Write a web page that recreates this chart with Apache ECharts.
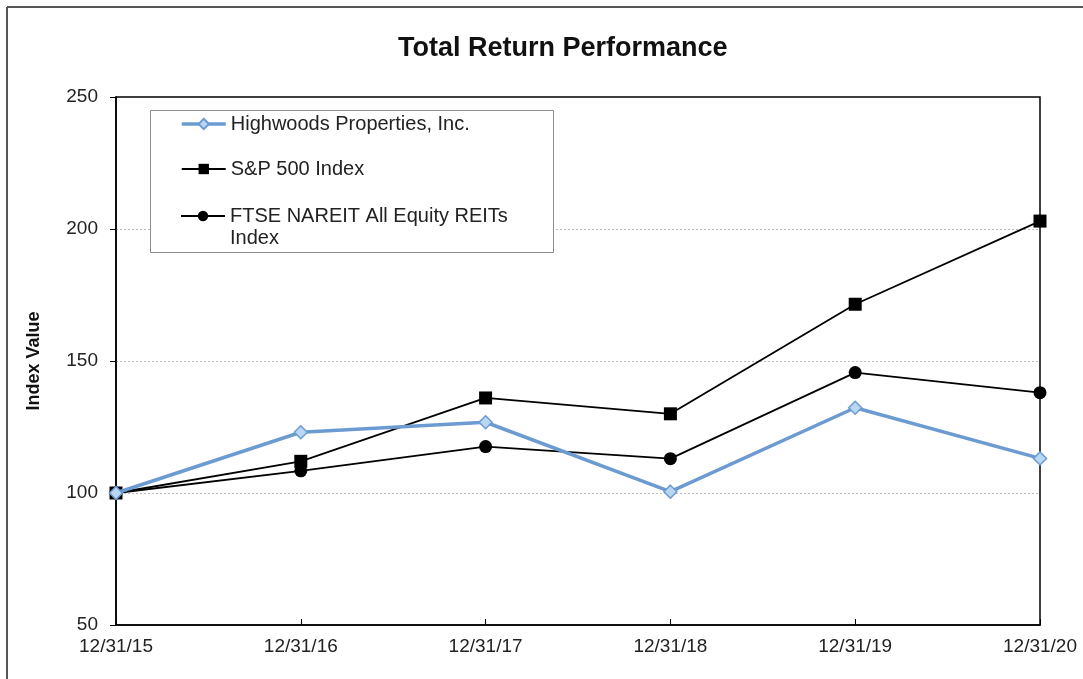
<!DOCTYPE html>
<html>
<head>
<meta charset="utf-8">
<title>Total Return Performance</title>
<script src="https://cdn.jsdelivr.net/npm/echarts@6/dist/echarts.min.js"></script>
<style>
  html, body { margin: 0; padding: 0; background: #fff; }
  #chart { width: 1083px; height: 679px; }
</style>
</head>
<body>
<div id="chart"></div>
<script>
// data
const dates = ['12/31/15', '12/31/16', '12/31/17', '12/31/18', '12/31/19', '12/31/20'];
const highwoods = [100, 123.0, 126.8, 100.5, 132.3, 113.1];
const sp500 = [100, 112.0, 136.0, 130.0, 171.5, 203.0];
const ftseNareit = [100, 108.4, 117.6, 113.0, 145.6, 138.0];

const font = '"Liberation Sans", Arial, sans-serif';
const blue = '#6b9bd1';

const chart = echarts.init(document.getElementById('chart'));

const legendText = {
  fontFamily: font,
  fontSize: 20,
  color: '#222',
  lineHeight: 22
};

chart.setOption({
  animation: false,
  backgroundColor: '#fff',
  title: {
    text: 'Total Return Performance',
    left: 398,
    top: 35,
    padding: 0,
    textStyle: { fontFamily: font, fontSize: 27, fontWeight: 'bold', color: '#111' }
  },
  graphic: [
    // outer frame (top & left edges)
    { type: 'line', z: 10, shape: { x1: 7, y1: 7, x2: 1083, y2: 7 }, style: { stroke: '#555', lineWidth: 2 } },
    { type: 'line', z: 10, shape: { x1: 7, y1: 7, x2: 7, y2: 679 }, style: { stroke: '#555', lineWidth: 2 } },
    // legend box
    {
      type: 'rect', z: 3,
      shape: { x: 150.5, y: 110.5, width: 403, height: 142 },
      style: { fill: '#fff', stroke: '#8c8c8c', lineWidth: 1 }
    }
  ],
  legend: [
    {
      data: [
        { name: 'Highwoods Properties, Inc.', lineStyle: { width: 3.5 } },
        { name: 'S&P 500 Index', lineStyle: { width: 2 } }
      ],
      orient: 'vertical',
      left: 180,
      top: 113,
      padding: 0,
      itemGap: 23,
      itemWidth: 44,
      itemHeight: 13,
      textStyle: legendText
    },
    {
      data: [{ name: 'FTSE NAREIT All Equity REITs Index', lineStyle: { width: 2 } }],
      orient: 'vertical',
      left: 180,
      top: 183,
      padding: 0,
      itemWidth: 44,
      itemHeight: 13,
      // leading blank line keeps the icon level with the first text line
      formatter: () => '\nFTSE NAREIT All Equity REITs\nIndex',
      textStyle: legendText
    }
  ],
  grid: {
    left: 116,
    right: 43,
    top: 97,
    bottom: 54,
    show: true,
    borderColor: '#000',
    borderWidth: 1.5
  },
  xAxis: {
    type: 'category',
    data: dates,
    boundaryGap: false,
    axisLine: { lineStyle: { color: '#000', width: 1.5 } },
    axisTick: { inside: true, length: 6, lineStyle: { color: '#000' } },
    axisLabel: { fontFamily: font, fontSize: 19, color: '#222', margin: 12 },
    splitLine: { show: false }
  },
  yAxis: {
    type: 'value',
    min: 50,
    max: 250,
    interval: 50,
    name: 'Index Value',
    nameLocation: 'middle',
    nameRotate: 90,
    nameGap: 73,
    nameTextStyle: { fontFamily: font, fontSize: 18, fontWeight: 'bold', color: '#111' },
    axisLine: { show: true, lineStyle: { color: '#000', width: 1.5 } },
    axisTick: { show: true, length: 6, lineStyle: { color: '#000' } },
    axisLabel: { fontFamily: font, fontSize: 19, color: '#222', margin: 18 },
    splitLine: {
      show: true,
      showMinLine: false,
      showMaxLine: false,
      lineStyle: { color: '#bdbdbd', type: [2, 2], width: 1 }
    }
  },
  series: [
    {
      name: 'FTSE NAREIT All Equity REITs Index',
      type: 'line',
      data: ftseNareit,
      symbol: 'circle',
      symbolSize: 13,
      lineStyle: { color: '#000', width: 1.8 },
      itemStyle: { color: '#000' },
      z: 3
    },
    {
      name: 'S&P 500 Index',
      type: 'line',
      data: sp500,
      symbol: 'rect',
      symbolSize: 13,
      lineStyle: { color: '#000', width: 1.8 },
      itemStyle: { color: '#000' },
      z: 4
    },
    {
      name: 'Highwoods Properties, Inc.',
      type: 'line',
      data: highwoods,
      symbol: 'diamond',
      symbolSize: 13,
      lineStyle: { color: blue, width: 3.5 },
      itemStyle: { color: '#b9d6f2', borderColor: blue, borderWidth: 1.5 },
      z: 5
    }
  ]
});
</script>
</body>
</html>
